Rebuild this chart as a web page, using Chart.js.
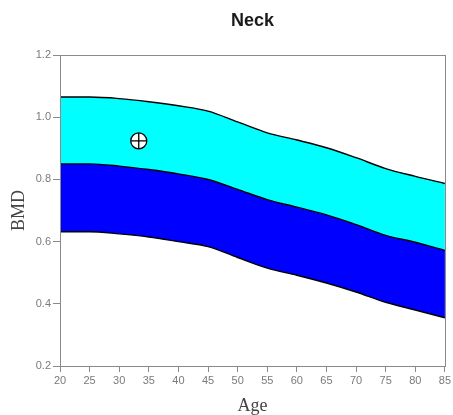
<!DOCTYPE html>
<html>
<head>
<meta charset="utf-8">
<title>Neck</title>
<script src="https://cdn.jsdelivr.net/npm/chart.js@4/dist/chart.umd.min.js"></script>
<style>
  html, body { margin: 0; padding: 0; background: #fff; }
  #wrap { width: 453px; height: 415px; position: relative; }
</style>
</head>
<body>
<div id="wrap"><canvas id="neck"></canvas></div>
<script>
// reference curves for neck BMD by age
var ages  = [20, 25, 30, 35, 40, 45, 50, 55, 60, 65, 70, 75, 80, 85];
var upper = [1.065, 1.065, 1.06, 1.05, 1.037, 1.02, 0.985, 0.95, 0.927, 0.902, 0.87, 0.835, 0.81, 0.787];
var mean  = [0.85, 0.85, 0.843, 0.832, 0.818, 0.80, 0.768, 0.735, 0.711, 0.686, 0.655, 0.62, 0.598, 0.572];
var lower = [0.632, 0.632, 0.625, 0.615, 0.60, 0.584, 0.549, 0.515, 0.492, 0.467, 0.438, 0.405, 0.38, 0.355];

// patient measurement
var patientAge = 33.3;
var patientBmd = 0.924;

var axisGrey = '#8a8a8a';
var tickGrey = '#7a7a7a';

function pts(ys) {
	return ages.map(function(a, i) { return {x: a, y: ys[i]}; });
}

function band(ys, fillColor) {
	return {
		data: pts(ys),
		borderColor: '#000',
		borderWidth: 1.4,
		backgroundColor: fillColor,
		fill: fillColor ? '+1' : false,
		pointRadius: 0,
		cubicInterpolationMode: 'monotone'
	};
}

// box round the plot area
var frame = {
	id: 'frame',
	afterDatasetsDraw: function(chart) {
		var a = chart.chartArea, ctx = chart.ctx;
		ctx.save();
		ctx.strokeStyle = axisGrey;
		ctx.lineWidth = 1;
		ctx.strokeRect(Math.round(a.left) + 0.5, Math.round(a.top) + 0.5,
			Math.round(a.right - a.left), Math.round(a.bottom - a.top));
		ctx.restore();
	}
};

new Chart(document.getElementById('neck'), {
	type: 'line',
	data: {
		datasets: [
			band(upper, '#00ffff'),
			band(mean, '#0000ff'),
			band(lower, null),
			{
				type: 'scatter',
				data: [{x: patientAge, y: patientBmd}],
				pointStyle: 'circle',
				pointRadius: 8,
				pointBackgroundColor: '#fff',
				pointBorderColor: '#000',
				pointBorderWidth: 1.3,
				order: -1
			},
			{
				type: 'scatter',
				data: [{x: patientAge, y: patientBmd}],
				pointStyle: 'cross',
				pointRadius: 8,
				pointBorderColor: '#000',
				pointBorderWidth: 1.3,
				order: -2
			}
		]
	},
	options: {
		responsive: true,
		maintainAspectRatio: false,
		animation: false,
		events: [],
		layout: { autoPadding: false, padding: { left: 0, right: 7, top: 0, bottom: 0 } },
		plugins: {
			legend: { display: false },
			tooltip: { enabled: false },
			filler: { drawTime: 'beforeDatasetsDraw' },
			title: {
				display: true,
				fullSize: false,
				text: 'Neck',
				color: '#1a1a1a',
				font: { family: 'Liberation Sans', size: 18, weight: 'bold' },
				padding: { top: 10.5, bottom: 23 }
			}
		},
		scales: {
			x: {
				type: 'linear',
				min: 20,
				max: 85,
				ticks: {
					stepSize: 5,
					autoSkip: false,
					maxRotation: 0,
					color: tickGrey,
					padding: 2,
					font: { family: 'Liberation Sans', size: 11 }
				},
				grid: { drawOnChartArea: false, drawTicks: true, tickLength: 6, color: axisGrey },
				border: { color: axisGrey },
				title: {
					display: true,
					text: 'Age',
					color: '#444',
					font: { family: 'Liberation Serif', size: 18 },
					padding: { top: 0, bottom: -2 }
				},
				afterFit: function(s) { s.height = 49; }
			},
			y: {
				min: 0.2,
				max: 1.2,
				ticks: {
					stepSize: 0.2,
					color: tickGrey,
					padding: 2,
					font: { family: 'Liberation Sans', size: 11 },
					callback: function(v) { return v.toFixed(1); }
				},
				grid: { drawOnChartArea: false, drawTicks: true, tickLength: 7, color: axisGrey },
				border: { color: axisGrey },
				title: {
					display: true,
					text: 'BMD',
					color: '#444',
					font: { family: 'Liberation Serif', size: 18 },
					padding: { top: 8, bottom: 0 }
				},
				afterFit: function(s) { s.width = 60; }
			}
		}
	},
	plugins: [frame]
});
</script>
</body>
</html>
